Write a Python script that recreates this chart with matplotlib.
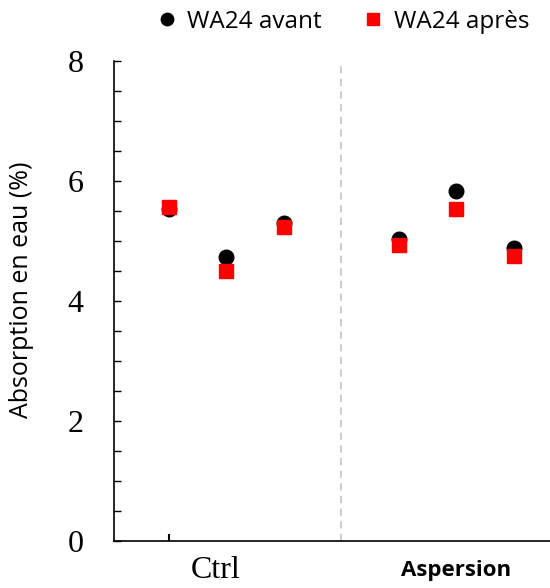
import numpy as np
import matplotlib.pyplot as plt
from matplotlib.ticker import MultipleLocator

# ── DATA ─────────────────────────────────────────────────────────
groups      = ["Ctrl", "Aspersion"]
x_ctrl      = [1, 2, 3]
x_asp       = [5, 6, 7]
avant_ctrl  = [5.53, 4.73, 5.30]
apres_ctrl  = [5.57, 4.50, 5.23]
avant_asp   = [5.03, 5.83, 4.88]
apres_asp   = [4.93, 5.53, 4.75]
y_ticks     = [0, 2, 4, 6, 8]

fig = plt.figure(figsize=(5.5, 5.88), dpi=100)
ax = fig.add_axes([0.207, 0.080, 0.793, 0.816])

x_all = x_ctrl + x_asp
ax.plot(x_all, avant_ctrl + avant_asp, "o", color="black", markersize=10.5,
        label="WA24 avant", zorder=3)
ax.plot(x_all, apres_ctrl + apres_asp, "s", color="#ff0000", markersize=9.5,
        label="WA24 après", zorder=4)

# separator between the two groups
ax.axvline(4, color="#c8c8c8", linestyle=(0, (4, 3)), linewidth=1.3, zorder=1)

ax.set_xlim(0.043, 7.63)
ax.set_ylim(0, 8)

ax.spines["top"].set_visible(False)
ax.spines["right"].set_visible(False)
for s in ("left", "bottom"):
    ax.spines[s].set_linewidth(1.2)

ax.set_yticks(y_ticks)
ax.yaxis.set_minor_locator(MultipleLocator(0.5))
ax.tick_params(axis="y", which="both", direction="in", length=5, width=1.0, pad=22)
ax.tick_params(axis="y", which="major", labelsize=23)
for lab in ax.get_yticklabels():
    lab.set_fontfamily("Liberation Serif")

ax.set_xticks([1])
ax.set_xticklabels([""])
ax.tick_params(axis="x", direction="in", length=5, width=1.5)

# group labels under the axis
ax.text(1.82, -0.5, groups[0], ha="center", va="center", fontsize=23,
        family="Liberation Serif", transform=ax.transData, clip_on=False)
ax.text(6.0, -0.5, groups[1], ha="center", va="center", fontsize=16,
        fontweight="bold", family="Open Sans", transform=ax.transData, clip_on=False)

fig.text(22 / 550, 1 - 290 / 588, "Absorption en eau (%)", rotation=90,
         ha="center", va="center", fontsize=18, family="Open Sans")

ax.legend(loc="center right", bbox_to_anchor=(529 / 550, 1 - 22 / 588),
          bbox_transform=fig.transFigure, ncol=2, frameon=False,
          prop={"family": "Open Sans", "size": 17.5}, handlelength=1.0,
          handletextpad=0.35, columnspacing=1.6, borderaxespad=0, borderpad=0,
          markerscale=0.85)

fig.savefig("out.png", dpi=100)
